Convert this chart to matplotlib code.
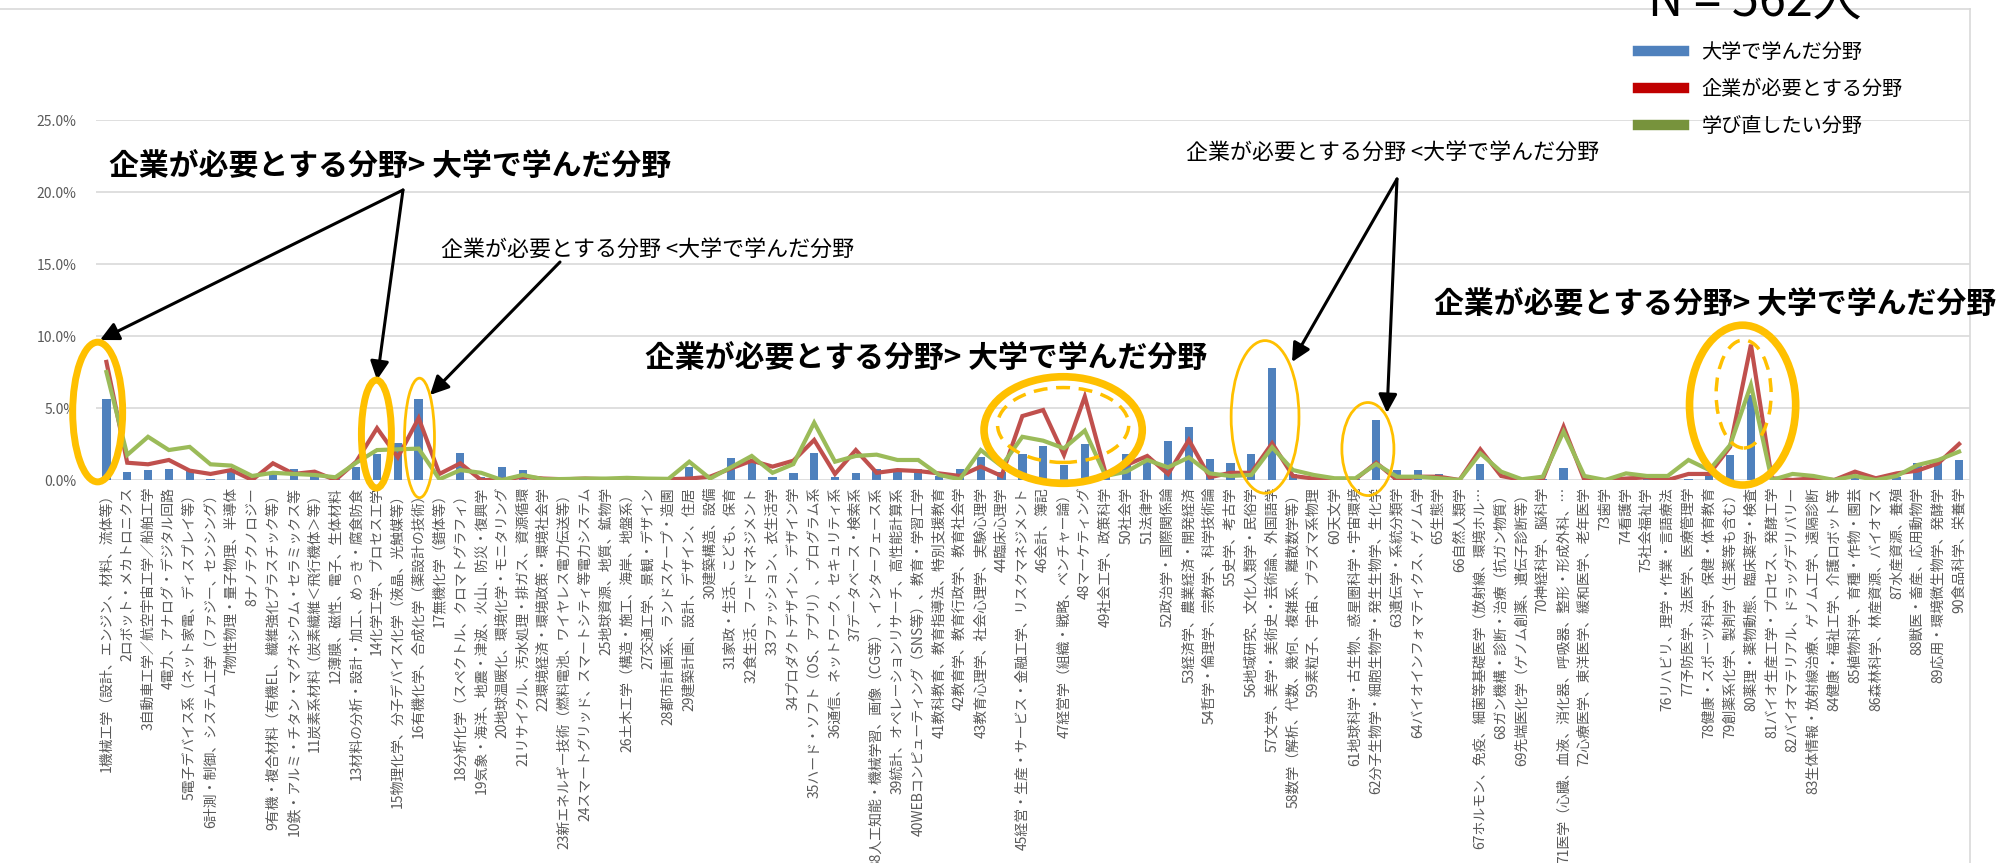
import matplotlib
matplotlib.use("Agg")
import matplotlib.pyplot as plt
from matplotlib.patches import Ellipse
from matplotlib.lines import Line2D
import numpy as np

plt.rcParams["font.family"] = ["Noto Sans CJK JP", "DejaVu Sans"]

labels = [
    "1機械工学（設計、エンジン、材料、流体等）",
    "2ロボット・メカトロニクス",
    "3自動車工学／航空宇宙工学／船舶工学",
    "4電力、アナログ・デジタル回路",
    "5電子デバイス系（ネット家電、ディスプレイ等）",
    "6計測・制御、システム工学（ファジー、センシング）",
    "7物性物理・量子物理、半導体",
    "8ナノテクノロジー",
    "9有機・複合材料（有機EL、繊維強化プラスチック等）",
    "10鉄・アルミ・チタン・マグネシウム・セラミックス等",
    "11炭素系材料（炭素繊維＜飛行機体＞等）",
    "12薄膜、磁性、電子、生体材料",
    "13材料の分析・設計・加工、めっき・腐食防食",
    "14化学工学、プロセス工学",
    "15物理化学、分子デバイス化学（液晶、光触媒等）",
    "16有機化学、合成化学（薬設計の技術）",
    "17無機化学（錯体等）",
    "18分析化学（スペクトル、クロマトグラフィ）",
    "19気象・海洋、地震・津波、火山、防災・復興学",
    "20地球温暖化、環境化学・モニタリング",
    "21リサイクル、汚水処理・排ガス、資源循環",
    "22環境経済・環境政策・環境社会学",
    "23新エネルギー技術（燃料電池、ワイヤレス電力伝送等）",
    "24スマートグリッド、スマートシティ等電力システム",
    "25地球資源、地質、鉱物学",
    "26土木工学（構造・施工、海岸、地盤系）",
    "27交通工学、景観・デザイン",
    "28都市計画系、ランドスケープ・造園",
    "29建築計画、設計、デザイン、住居",
    "30建築構造、設備",
    "31家政・生活、こども、保育",
    "32食生活、フードマネジメント",
    "33ファッション、衣生活学",
    "34プロダクトデザイン、デザイン学",
    "35ハード・ソフト（OS、アプリ）、プログラム系",
    "36通信、ネットワーク、セキュリティ系",
    "37データベース・検索系",
    "38人工知能・機械学習、画像（CG等）、インターフェース系",
    "39統計、オペレーションリサーチ、高性能計算系",
    "40WEBコンピューティング（SNS等）、教育・学習工学",
    "41教科教育、教育指導法、特別支援教育",
    "42教育学、教育行政学、教育社会学",
    "43教育心理学、社会心理学、実験心理学",
    "44臨床心理学",
    "45経営・生産・サービス・金融工学、リスクマネジメント",
    "46会計、簿記",
    "47経営学（組織・戦略、ベンチャー論）",
    "48マーケティング",
    "49社会工学、政策科学",
    "50社会学",
    "51法律学",
    "52政治学・国際関係論",
    "53経済学、農業経済・開発経済",
    "54哲学・倫理学、宗教学、科学技術論",
    "55史学、考古学",
    "56地域研究、文化人類学・民俗学",
    "57文学、美学・美術史・芸術論、外国語学",
    "58数学（解析、代数、幾何、複雑系、離散数学等）",
    "59素粒子、宇宙、プラズマ系物理",
    "60天文学",
    "61地球科学・古生物、惑星圏科学・宇宙環境",
    "62分子生物学・細胞生物学・発生生物学、生化学",
    "63遺伝学・系統分類学",
    "64バイオインフォマティクス、ゲノム学",
    "65生態学",
    "66自然人類学",
    "67ホルモン、免疫、細菌等基礎医学（放射線、環境ホル…",
    "68ガン機構・診断・治療（抗ガン物質）",
    "69先端医化学（ゲノム創薬、遺伝子診断等）",
    "70神経科学、脳科学",
    "71医学（心臓、血液、消化器、呼吸器、整形・形成外科、…",
    "72心療医学、東洋医学、緩和医学、老年医学",
    "73歯学",
    "74看護学",
    "75社会福祉学",
    "76リハビリ、理学・作業・言語療法",
    "77予防医学、法医学、医療管理学",
    "78健康・スポーツ科学、保健・体育教育",
    "79創薬系化学、製剤学（生薬等も含む）",
    "80薬理・薬物動態、臨床薬学・検査",
    "81バイオ生産工学・プロセス、発酵工学",
    "82バイオマテリアル、ドラッグデリバリー",
    "83生体情報・放射線治療、ゲノム工学、遠隔診断",
    "84健康・福祉工学、介護ロボット等",
    "85植物科学、育種・作物・園芸",
    "86森林科学、林産資源、バイオマス",
    "87水産資源、養殖",
    "88獣医・畜産、応用動物学",
    "89応用・環境微生物学、発酵学",
    "90食品科学、栄養学",
]

# 大学で学んだ分野 (%)
univ = [5.6, 0.58, 0.69, 0.79, 0.69, 0.1, 0.74, 0.0, 0.5, 0.79,
        0.46, 0.05, 0.88, 1.8, 2.6, 5.6, 0.0, 1.9, 0.2, 0.9,
        0.67, 0.0, 0.0, 0.0, 0.0, 0.0, 0.0, 0.0, 0.93, 0.0,
        1.5, 1.34, 0.19, 0.46, 1.9, 0.19, 0.5, 0.79, 0.79, 0.74,
        0.28, 0.79, 1.57, 0.58, 1.8, 2.36, 1.04, 2.5, 0.5, 1.8,
        1.67, 2.69, 3.66, 1.48, 1.16, 1.8, 7.8, 0.42, 0.05, 0.0,
        0.05, 4.2, 0.69, 0.69, 0.4, 0.0, 1.09, 0.0, 0.0, 0.05,
        0.81, 0.0, 0.0, 0.0, 0.42, 0.0, 0.07, 0.58, 1.71, 5.9,
        0.0, 0.0, 0.0, 0.0, 0.28, 0.0, 0.23, 1.16, 1.39, 1.39]

# 企業が必要とする分野 (%)
company = [8.2, 1.2, 1.09, 1.39, 0.65, 0.42, 0.69, 0.0, 1.16, 0.42,
           0.58, 0.0, 1.27, 3.6, 1.57, 4.3, 0.42, 1.16, 0.0, 0.0,
           0.23, 0.1, 0.05, 0.1, 0.05, 0.0, 0.0, 0.05, 0.1, 0.23,
           0.8, 1.34, 0.93, 1.34, 2.78, 0.42, 2.08, 0.5, 0.69, 0.62,
           0.46, 0.28, 0.93, 0.28, 4.44, 4.86, 1.74, 5.79, 0.46, 1.04,
           1.67, 0.42, 2.78, 0.19, 0.5, 0.5, 2.55, 0.28, 0.1, 0.0,
           0.05, 1.2, 0.0, 0.23, 0.23, 0.0, 2.13, 0.28, 0.0, 0.05,
           3.7, 0.0, 0.0, 0.1, 0.19, 0.0, 0.42, 0.42, 2.3, 9.4,
           0.12, 0.0, 0.12, 0.0, 0.58, 0.12, 0.46, 0.65, 1.16, 2.5]

# 学び直したい分野 (%)
relearn = [7.5, 1.74, 3.0, 2.08, 2.3, 1.09, 1.0, 0.28, 0.5, 0.42,
           0.35, 0.19, 1.2, 2.08, 2.13, 2.18, 0.05, 0.69, 0.5, 0.0,
           0.35, 0.05, 0.07, 0.1, 0.1, 0.15, 0.1, 0.08, 1.27, 0.1,
           0.88, 1.67, 0.5, 1.1, 3.98, 1.27, 1.67, 1.76, 1.39, 1.39,
           0.35, 0.05, 2.08, 0.97, 3.0, 2.73, 2.2, 3.43, 0.28, 0.58,
           1.39, 0.88, 1.57, 0.46, 0.28, 0.35, 2.27, 0.69, 0.35, 0.12,
           0.12, 1.11, 0.23, 0.23, 0.12, 0.0, 1.85, 0.58, 0.05, 0.23,
           3.36, 0.28, 0.0, 0.46, 0.28, 0.28, 1.39, 0.69, 2.43, 6.6,
           0.0, 0.42, 0.28, 0.0, 0.28, 0.0, 0.28, 1.04, 1.39, 1.97]

series_names = ["大学で学んだ分野", "企業が必要とする分野", "学び直したい分野"]
yticks = [0, 5, 10, 15, 20, 25]

W, H = 2004, 863
fig = plt.figure(figsize=(W / 100, H / 100), dpi=100)
ax = fig.add_axes([96 / W, 1 - 480 / H, (1969.5 - 96) / W, 360 / H])

x = np.arange(len(labels))
ax.bar(x, univ, 0.4, color="#4F81BD", zorder=2)
ax.plot(x, company, color="#C0504D", lw=3, zorder=3, solid_joinstyle="miter")
ax.plot(x, relearn, color="#9BBB59", lw=3, zorder=4, solid_joinstyle="miter")

ax.set_xlim(-0.5, len(labels) - 0.5)
ax.set_ylim(0, 25)
ax.set_yticks(yticks)
ax.set_yticklabels([f"{v:.1f}%" for v in yticks], fontsize=10, color="#595959")
ax.set_xticks(x)
ax.set_xticklabels(labels, rotation=90, fontsize=10, color="#595959")
ax.tick_params(axis="both", length=0)
ax.tick_params(axis="x", pad=5)
ax.tick_params(axis="y", pad=14)
for s in ax.spines.values():
    s.set_visible(False)
ax.yaxis.grid(True, color="#D9D9D9", lw=1.2, zorder=0)
ax.set_axisbelow(True)

# chart frame (top + right)
fig.add_artist(Line2D([0, 1970 / W], [1 - 9 / H, 1 - 9 / H], color="#D9D9D9", lw=1.2))
fig.add_artist(Line2D([1970 / W, 1970 / W], [0, 1 - 9 / H], color="#D9D9D9", lw=1.2))

# legend
handles = [Line2D([], [], color=c, lw=7.5) for c in ["#4F81BD", "#C00000", "#77933C"]]
fig.legend(handles, series_names, loc="upper left",
           bbox_to_anchor=(1638 / W, 1 - 42 / H), frameon=False,
           fontsize=14.5, handlelength=2.3, handletextpad=0.85,
           labelspacing=0.8, borderpad=0, borderaxespad=0)

fig.text(1755 / W, 1 - 16 / H, "N = 562人", fontsize=35, ha="center", va="baseline")

# annotations
yellow = "#FFC000"
ells = [
    # (cx, cy, w, h, lw, ls)
    (-0.42, 4.72, 2.4, 9.7, 5, "-"),
    (12.97, 3.19, 1.44, 7.5, 5, "-"),
    (15.04, 2.92, 1.44, 8.3, 2, "-"),
    (45.96, 3.47, 7.6, 7.4, 5.5, "-"),
    (45.96, 3.82, 6.3, 5.2, 2.5, (0, (4, 2.5))),
    (55.66, 4.38, 3.26, 10.6, 2, "-"),
    (60.6, 2.15, 2.5, 6.46, 2, "-"),
    (78.6, 5.2, 5.1, 11.1, 5.5, "-"),
    (78.65, 5.97, 2.64, 7.5, 2.5, (0, (4, 2.5))),
]
for cx, cy, w, h, lw, ls in ells:
    ax.add_patch(Ellipse((cx, cy), w, h, fill=False, ec=yellow, lw=lw, ls=ls,
                         clip_on=False, zorder=6))


def arrow(x1, y1, x2, y2):
    ax.annotate("", xy=(x2, H - y2), xytext=(x1, H - y1),
                xycoords="figure pixels", textcoords="figure pixels",
                arrowprops=dict(arrowstyle="-|>", color="black", lw=2.2,
                                mutation_scale=28, shrinkA=0, shrinkB=0))


arrow(403, 190, 100, 340)
arrow(403, 190, 377, 380)
arrow(560, 262, 430, 395)
arrow(1397, 179, 1292, 362)
arrow(1397, 179, 1387, 413)

big = "企業が必要とする分野> 大学で学んだ分野"
small = "企業が必要とする分野 <大学で学んだ分野"
fig.text(109 / W, 1 - 166 / H, big, fontsize=21.5, fontweight="bold", va="center")
fig.text(441 / W, 1 - 250 / H, small, fontsize=15.8, va="center")
fig.text(645 / W, 1 - 358 / H, big, fontsize=21.5, fontweight="bold", va="center")
fig.text(1186 / W, 1 - 153 / H, small, fontsize=15.8, va="center")
fig.text(1434 / W, 1 - 304 / H, big, fontsize=21.5, fontweight="bold", va="center")

fig.savefig("out.png", dpi=100, facecolor="white")
